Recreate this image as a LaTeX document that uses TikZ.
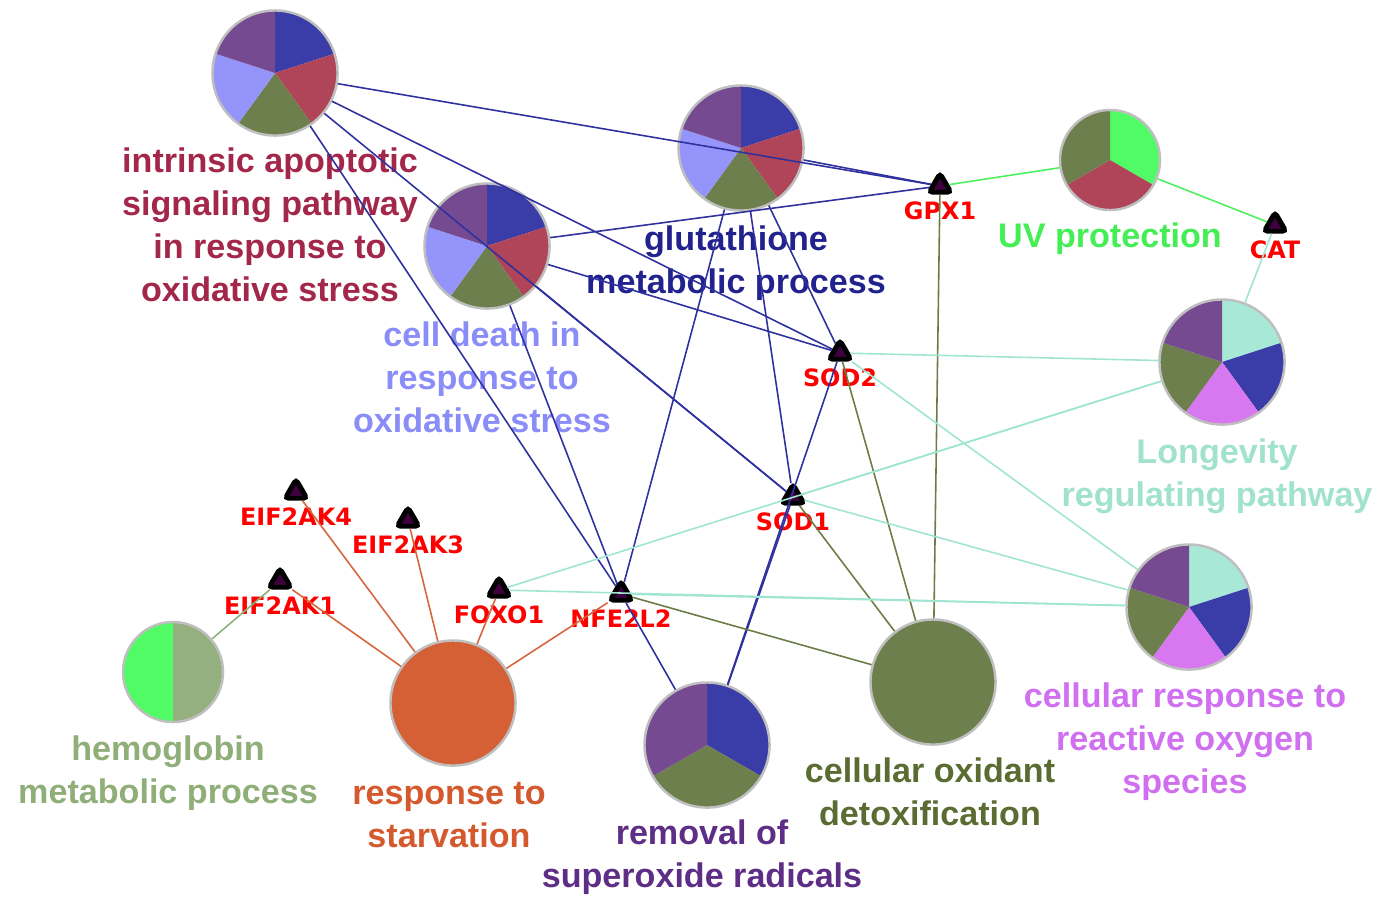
\documentclass[tikz,border=0pt]{standalone}
\usepackage{fontspec}
\usetikzlibrary{shapes.geometric}
\newfontfamily\termfont{Liberation Sans}
\newfontfamily\genefont{DejaVu Sans}

% slice colours
\definecolor{pblue}{HTML}{3A3CA8}
\definecolor{pred}{HTML}{B04458}
\definecolor{polive}{HTML}{6D7F4C}
\definecolor{plight}{HTML}{9494FA}
\definecolor{ppurple}{HTML}{754A90}
\definecolor{pgreen}{HTML}{50FB66}
\definecolor{pmint}{HTML}{A8E8D6}
\definecolor{ppink}{HTML}{D878F0}
\definecolor{psage}{HTML}{93B07E}
\definecolor{porange}{HTML}{D66036}
% text colours
\definecolor{tiap}{HTML}{A3264B}
\definecolor{tgmp}{HTML}{22228F}
\definecolor{tcd}{HTML}{8A8CF8}
\definecolor{tuv}{HTML}{44EE55}
\definecolor{tlon}{HTML}{A0E2CE}
\definecolor{tros}{HTML}{D070F0}
\definecolor{themo}{HTML}{8FAE78}
\definecolor{tstarv}{HTML}{D45A2E}
\definecolor{tremov}{HTML}{5E2E86}
\definecolor{tdetox}{HTML}{5B6C32}
% edge colours
\definecolor{eblue}{HTML}{2F319E}
\definecolor{eolive}{HTML}{6B7D45}
\definecolor{emint}{HTML}{9FE5D2}
\definecolor{egreen}{HTML}{4EF060}
\definecolor{esage}{HTML}{8DB07A}
\definecolor{eorange}{HTML}{D6663C}

\newcommand{\pieslice}[5]{\fill[#5] (#1) -- ++(#3:#2) arc[start angle=#3, end angle=#4, radius=#2] -- cycle;}

\begin{document}
\begin{tikzpicture}[x=0.01cm, y=0.01cm]
\useasboundingbox (0,0) rectangle (1383,-896);
% Define the node styles
\tikzstyle{term} = [circle, draw=black!25, line width=0.7pt, minimum size=1.25cm, inner sep=0pt]
\tikzstyle{smallterm} = [term, minimum size=1.0cm]
\tikzstyle{termtext} = [align=center, inner sep=0pt, font=\termfont\bfseries\fontsize{9.7}{12.2}\selectfont]
\tikzstyle{gene} = [regular polygon, regular polygon sides=3, draw=black, fill=violet!50!black, line width=1.4pt, rounded corners=1pt, minimum size=0.25cm, inner sep=0pt]
\tikzstyle{genelab} = [text=red, inner sep=0pt, label distance=1.7pt, font=\genefont\bfseries\fontsize{6.8}{7}\selectfont]
\tikzstyle{blueedge} = [draw=eblue, line width=0.45pt]
\tikzstyle{oliveedge} = [draw=eolive, line width=0.45pt]
\tikzstyle{mintedge} = [draw=emint, line width=0.45pt]
\tikzstyle{greenedge} = [draw=egreen, line width=0.45pt]
\tikzstyle{sageedge} = [draw=esage, line width=0.45pt]
\tikzstyle{orangeedge} = [draw=eorange, line width=0.45pt]

% Term labels
\node[termtext, text=tiap] (iap-text) at (270,-225) {intrinsic apoptotic\\signaling pathway\\in response to\\oxidative stress};
\node[termtext, text=tgmp] (gmp-text) at (736,-263) {glutathione\\metabolic process};
\node[termtext, text=tcd] (cd-text) at (482,-377) {cell death in\\response to\\oxidative stress};
\node[termtext, text=tuv] (uv-text) at (1110,-239) {UV protection};
\node[termtext, text=tlon] (lon-text) at (1217,-476) {Longevity\\regulating pathway};
\node[termtext, text=tros] (ros-text) at (1185,-742) {cellular response to\\reactive oxygen\\species};
\node[termtext, text=themo] (hem-text) at (168,-773) {hemoglobin\\metabolic process};
\node[termtext, text=tstarv] (sta-text) at (449,-815) {response to\\starvation};
\node[termtext, text=tremov] (rem-text) at (702,-857) {removal of\\superoxide radicals};
\node[termtext, text=tdetox] (det-text) at (930,-792) {cellular oxidant\\detoxification};

% Pie slices
\foreach \a/\b/\c in {90/18/pblue, 18/-54/pred, -54/-126/polive, -126/-198/plight, 162/90/ppurple} {
  \pieslice{275,-73}{62}{\a}{\b}{\c}
  \pieslice{741,-148}{62}{\a}{\b}{\c}
  \pieslice{487,-246}{62}{\a}{\b}{\c}
}
\foreach \a/\b/\c in {90/18/pmint, 18/-54/pblue, -54/-126/ppink, -126/-198/polive, 162/90/ppurple} {
  \pieslice{1222,-362}{62}{\a}{\b}{\c}
  \pieslice{1189,-607}{62}{\a}{\b}{\c}
}
\foreach \a/\b/\c in {90/-30/pgreen, -30/-150/pred, -150/-270/polive}
  \pieslice{1110,-160}{50}{\a}{\b}{\c};
\foreach \a/\b/\c in {90/-30/pblue, -30/-150/polive, -150/-270/ppurple}
  \pieslice{707,-745}{62}{\a}{\b}{\c};
\pieslice{173,-672}{50}{90}{-90}{psage}
\pieslice{173,-672}{50}{90}{270}{pgreen}

% Define the term nodes
\node[term] (iap) at (275,-73) {};
\node[term] (gmp) at (741,-148) {};
\node[term] (cd) at (487,-246) {};
\node[smallterm] (uv) at (1110,-160) {};
\node[term] (lon) at (1222,-362) {};
\node[term] (ros) at (1189,-607) {};
\node[smallterm] (hem) at (173,-672) {};
\node[term, fill=porange] (sta) at (453,-703) {};
\node[term] (rem) at (707,-745) {};
\node[term, fill=polive] (det) at (933,-682) {};

% Define the gene nodes
\node[gene, label={[genelab]below:GPX1}] (gpx1) at (940,-186) {};
\node[gene, label={[genelab]below:CAT}] (cat) at (1275,-225) {};
\node[gene, label={[genelab]below:SOD2}] (sod2) at (840,-353) {};
\node[gene, label={[genelab]below:SOD1}] (sod1) at (793,-497) {};
\node[gene, label={[genelab]below:EIF2AK4}] (eif2ak4) at (296,-492) {};
\node[gene, label={[genelab]below:EIF2AK3}] (eif2ak3) at (408,-520) {};
\node[gene, label={[genelab]below:EIF2AK1}] (eif2ak1) at (280,-581) {};
\node[gene, label={[genelab]below:FOXO1}] (foxo1) at (499,-590) {};
\node[gene, label={[genelab]below:NFE2L2}] (nfe2l2) at (621,-594) {};

% Define the edges
\draw[blueedge] (iap) -- (gpx1);
\draw[blueedge] (iap) -- (sod2);
\draw[blueedge] (iap) -- (sod1);
\draw[blueedge] (iap) -- (nfe2l2);
\draw[blueedge] (cd) -- (gpx1);
\draw[blueedge] (cd) -- (sod2);
\draw[blueedge] (cd) -- (sod1);
\draw[blueedge] (cd) -- (nfe2l2);
\draw[blueedge] (gmp) -- (gpx1);
\draw[blueedge] (gmp) -- (sod2);
\draw[blueedge] (gmp) -- (sod1);
\draw[blueedge] (gmp) -- (nfe2l2);
\draw[blueedge] (rem) -- (sod1);
\draw[blueedge] (rem) -- (sod2);
\draw[blueedge] (rem) -- (nfe2l2);

\draw[oliveedge] (det) -- (gpx1);
\draw[oliveedge] (det) -- (sod2);
\draw[oliveedge] (det) -- (sod1);
\draw[oliveedge] (det) -- (nfe2l2);

\draw[mintedge] (lon) -- (cat);
\draw[mintedge] (lon) -- (sod2);
\draw[mintedge] (lon) -- (sod1);
\draw[mintedge] (lon) -- (foxo1);
\draw[mintedge] (ros) -- (sod2);
\draw[mintedge] (ros) -- (sod1);
\draw[mintedge] (ros) -- (foxo1);
\draw[mintedge] (ros) -- (nfe2l2);

\draw[greenedge] (uv) -- (gpx1);
\draw[greenedge] (uv) -- (cat);

\draw[sageedge] (hem) -- (eif2ak1);

\draw[orangeedge] (sta) -- (eif2ak1);
\draw[orangeedge] (sta) -- (eif2ak4);
\draw[orangeedge] (sta) -- (eif2ak3);
\draw[orangeedge] (sta) -- (foxo1);
\draw[orangeedge] (sta) -- (nfe2l2);

\end{tikzpicture}
\end{document}
